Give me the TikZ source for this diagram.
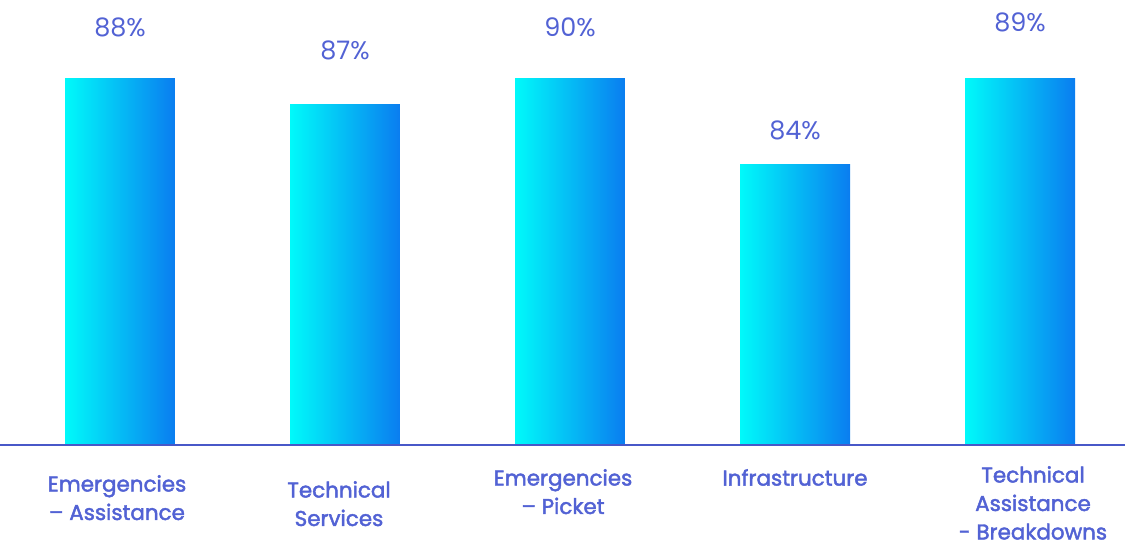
\documentclass[tikz,border=0pt]{standalone}
\usepackage{fontspec}
\setmainfont{Poppins}
\newfontfamily\catfont{Poppins}[FakeBold=2]
\definecolor{barcyan}{RGB}{0, 250, 250}
\definecolor{barblue}{RGB}{10, 125, 240}
\definecolor{labblue}{RGB}{82, 98, 212}
\definecolor{axisblue}{RGB}{72, 88, 200}
\usepackage{tikz}

\begin{document}
\begin{tikzpicture}[
  x=0.02cm, y=-0.02cm,
  bar/.style={shading=axis, left color=barcyan, right color=barblue, draw=none, minimum width=2.2cm, anchor=south, inner sep=0pt, outer sep=0pt},
  pct/.style={text=labblue, font=\fontsize{14.5}{17}\selectfont},
  cat/.style={text=labblue, align=center, font=\catfont\fontsize{12.2}{16.2}\selectfont, anchor=north}
]
  \useasboundingbox (0,0) rectangle (1125,547);
  % bars
  \node[bar, minimum height=7.34cm] (assist) at (120,445) {};
  \node[bar, minimum height=6.82cm] (services) at (345,445) {};
  \node[bar, minimum height=7.34cm] (picket) at (570,445) {};
  \node[bar, minimum height=5.62cm] (infra) at (795,445) {};
  \node[bar, minimum height=7.34cm] (breakdowns) at (1020,445) {};
  % axis line
  \coordinate (axisL) at (0,445);
  \coordinate (axisR) at (1125,445);
  \draw[axisblue, line width=1.1pt] (axisL) -- (axisR);
  % values
  \node[pct] (vassist) at (120,27) {88\%};
  \node[pct] (vservices) at (345,50) {87\%};
  \node[pct] (vpicket) at (570,27) {90\%};
  \node[pct] (vinfra) at (795,130) {84\%};
  \node[pct] (vbreakdowns) at (1020,22) {89\%};
  % categories
  \node[cat] (cassist) at (117,469) {Emergencies\\– Assistance};
  \node[cat] (cservices) at (339,475) {Technical\\Services};
  \node[cat] (cpicket) at (563,463) {Emergencies\\– Picket};
  \node[cat] (cinfra) at (795,463) {Infrastructure};
  \node[cat] (cbreakdowns) at (1033,460) {Technical\\Assistance\\- Breakdowns};
\end{tikzpicture}
\end{document}
